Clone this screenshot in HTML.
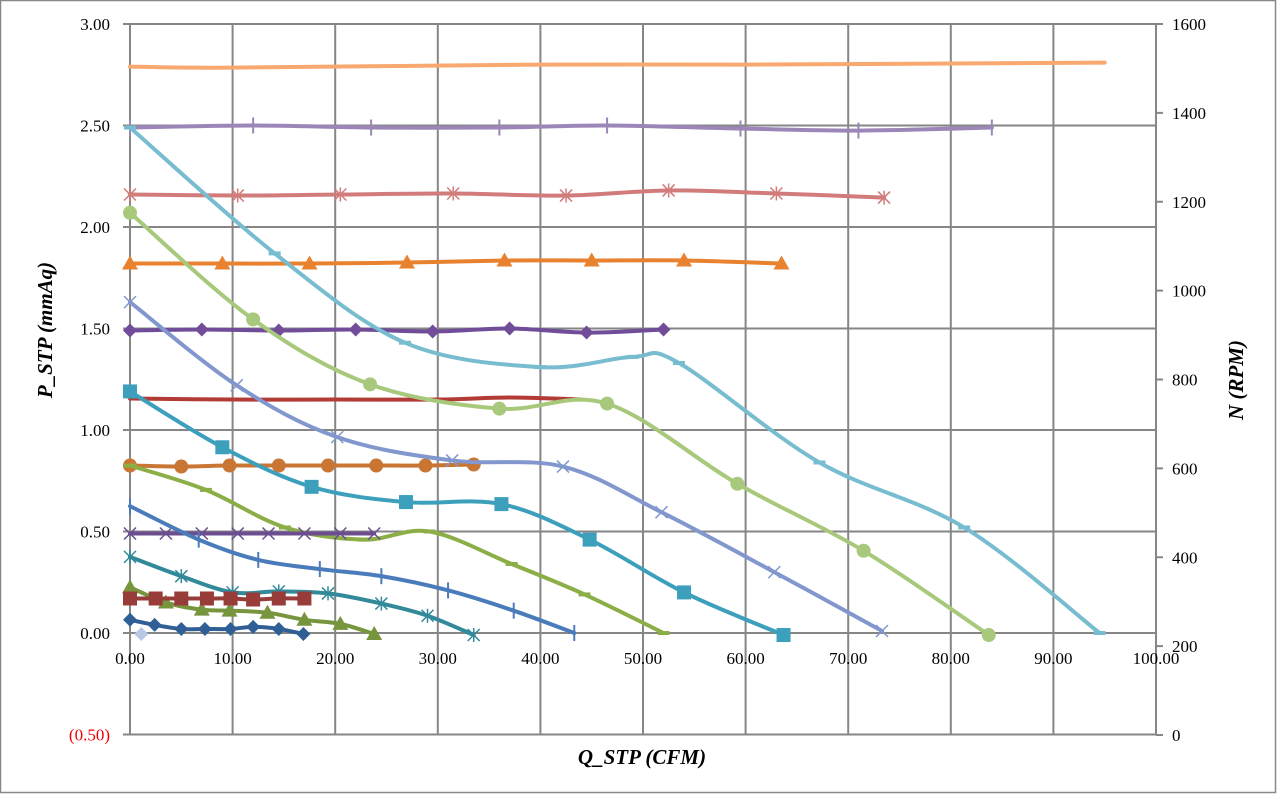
<!DOCTYPE html>
<html><head><meta charset="utf-8"><style>
html,body{margin:0;padding:0;background:#fff;}
svg{display:block;}
text{font-family:"Liberation Serif",serif;}
</style></head><body>
<svg id="s" width="1277" height="794" xmlns="http://www.w3.org/2000/svg">
<rect x="0.5" y="0.5" width="1275" height="792" fill="#fff" stroke="#888" stroke-width="1.5"/>
<g id="grid" stroke="#868686" stroke-width="2"></g>
<g id="labels" font-size="17" fill="#000"></g>
<g id="series"></g>
<text x="0" y="0" transform="translate(52,330) rotate(-90)" font-size="21" font-weight="bold" font-style="italic" text-anchor="middle">P_STP (mmAq)</text>
<text x="0" y="0" transform="translate(1243,380) rotate(-90)" font-size="21" font-weight="bold" font-style="italic" text-anchor="middle">N (RPM)</text>
<text x="642" y="764" font-size="21" font-weight="bold" font-style="italic" text-anchor="middle">Q_STP (CFM)</text>
</svg>
<script>
const NS="http://www.w3.org/2000/svg";
const X=v=>130+v*10.26, Y=v=>633-v*203;
function el(p,t,a,txt){const e=document.createElementNS(NS,t);for(const k in a)e.setAttribute(k,a[k]);if(txt!==undefined)e.textContent=txt;p.appendChild(e);return e;}
const g=document.getElementById('grid'),L=document.getElementById('labels'),S=document.getElementById('series');
for(let i=0;i<=10;i++){const x=X(i*10);el(g,'line',{x1:x,y1:24,x2:x,y2:735});
 el(L,'text',{x:x,y:664,'text-anchor':'middle'},(i*10).toFixed(2));}
for(let i=-1;i<=6;i++){const y=Y(i*0.5);el(g,'line',{x1:123,y1:y,x2:1156,y2:y});
 el(L,'text',{x:110,y:y+6,'text-anchor':'end',fill:i<0?'#e00':'#000'},i<0?'(0.50)':(i*0.5).toFixed(2));}
for(let i=0;i<=8;i++){const y=735-i*(711/8);el(g,'line',{x1:1156,y1:y,x2:1163,y2:y});
 el(L,'text',{x:1172,y:y+6},String(i*200));}
el(g,'line',{x1:1156,y1:24,x2:1156,y2:735});
function path(pts){let P=pts.map(p=>[X(p[0]),Y(p[1])]);let d='M'+P[0][0]+','+P[0][1];
 for(let i=0;i<P.length-1;i++){const p0=P[i-1]||P[i],p1=P[i],p2=P[i+1],p3=P[i+2]||p2;const t=6;
 d+=` C${p1[0]+(p2[0]-p0[0])/t},${p1[1]+(p2[1]-p0[1])/t} ${p2[0]-(p3[0]-p1[0])/t},${p2[1]-(p3[1]-p1[1])/t} ${p2[0]},${p2[1]}`;}return d;}
function mk(type,c,x,y){
 if(type==='circle')el(S,'circle',{cx:x,cy:y,r:7,fill:c});
 else if(type==='square')el(S,'rect',{x:x-7,y:y-7,width:14,height:14,fill:c});
 else if(type==='tri')el(S,'polygon',{points:`${x},${y-8} ${x+8},${y+6} ${x-8},${y+6}`,fill:c});
 else if(type==='dia')el(S,'polygon',{points:`${x},${y-7} ${x+7},${y} ${x},${y+7} ${x-7},${y}`,fill:c});
 else if(type==='x')el(S,'path',{d:`M${x-6},${y-6}L${x+6},${y+6}M${x-6},${y+6}L${x+6},${y-6}`,stroke:c,'stroke-width':1.5});
 else if(type==='star')el(S,'path',{d:`M${x-6},${y-6}L${x+6},${y+6}M${x-6},${y+6}L${x+6},${y-6}M${x},${y-7}L${x},${y+7}`,stroke:c,'stroke-width':1.5});
 else if(type==='plus')el(S,'path',{d:`M${x},${y-8}L${x},${y+8}`,stroke:c,'stroke-width':2});
 else if(type==='dash')el(S,'path',{d:`M${x-6},${y}L${x+6},${y}`,stroke:c,'stroke-width':4});
}
const D=[
['#F9A870','none',[[0,2.79],[10,2.785],[40,2.8],[60,2.8],[95,2.81]]],
['#9B86B7','plus',[[0,2.49],[12,2.5],[23.5,2.49],[36,2.49],[46.5,2.5],[59.5,2.485],[71,2.475],[84,2.49]]],
['#D27B7B','star',[[0,2.16],[10.5,2.155],[20.5,2.16],[31.5,2.165],[42.5,2.155],[52.5,2.18],[63,2.165],[73.5,2.145]]],
['#E8822F','tri',[[0,1.82],[9,1.82],[17.5,1.82],[27,1.825],[36.5,1.835],[45,1.835],[54,1.835],[63.5,1.82]]],
['#714C99','dia',[[0,1.49],[7,1.495],[14.5,1.49],[22,1.495],[29.5,1.485],[37,1.5],[44.5,1.48],[52,1.495]]],
['#B23B35','none',[[0,1.155],[10,1.15],[20,1.15],[30,1.15],[37,1.16],[44,1.15]]],
['#C97634','circle',[[0,0.825],[5,0.82],[9.7,0.825],[14.5,0.825],[19.3,0.825],[24,0.825],[28.8,0.825],[33.5,0.83]]],
['#78BCD0','dash',[[0,2.49],[14.1,1.87],[26.8,1.43],[40,1.31],[49,1.36],[53.5,1.33],[67.2,0.84],[81.3,0.52],[94.5,0]]],
['#A8C97C','circle',[[0,2.07],[12,1.545],[23.4,1.225],[36,1.105],[46.5,1.13],[59.2,0.735],[71.5,0.405],[83.7,-0.01]]],
['#8197CD','x',[[0,1.63],[10.4,1.22],[20.2,0.965],[31.4,0.85],[42.2,0.82],[51.8,0.595],[62.8,0.3],[73.3,0.01]]],
['#3CA0BC','square',[[0,1.19],[9,0.915],[17.7,0.72],[26.9,0.645],[36.2,0.635],[44.8,0.46],[54,0.2],[63.7,-0.01]]],
['#8BAE47','dash',[[0,0.825],[7.4,0.705],[15.1,0.52],[22.8,0.46],[29.2,0.5],[37.2,0.34],[44.3,0.19],[52,0]]],
['#6B4D90','x',[[0,0.49],[3.5,0.49],[7,0.49],[10.5,0.49],[13.5,0.49],[17,0.49],[20.5,0.49],[23.8,0.49]]],
['#4A7BBB','plus',[[0,0.625],[6.7,0.46],[12.5,0.36],[18.5,0.315],[24.5,0.28],[31,0.21],[37.4,0.11],[43.3,0]]],
['#32899A','star',[[0,0.375],[5,0.28],[10,0.2],[14.5,0.205],[19.3,0.195],[24.5,0.145],[29,0.085],[33.5,-0.01]]],
['#77953D','tri',[[0,0.225],[3.5,0.15],[7,0.115],[9.7,0.11],[13.4,0.1],[17,0.065],[20.5,0.045],[23.8,-0.005]]],
['#983C3A','square',[[0,0.17],[2.5,0.17],[5,0.17],[7.5,0.17],[9.8,0.17],[12,0.165],[14.5,0.17],[17,0.17]]],
['#2F5F95','dia',[[0,0.065],[2.4,0.04],[5,0.02],[7.3,0.02],[9.8,0.02],[12,0.03],[14.5,0.02],[16.9,-0.005]]],
];
for(const [c,m,pts] of D){el(S,'path',{d:path(pts),fill:'none',stroke:c,'stroke-width':4,'stroke-linecap':'round'});
 if(m!=='none')for(const p of pts)mk(m,c,X(p[0]),Y(p[1]));}
mk('dia','#B9C9E5',X(1.1),Y(-0.005));
</script>
</body></html>
